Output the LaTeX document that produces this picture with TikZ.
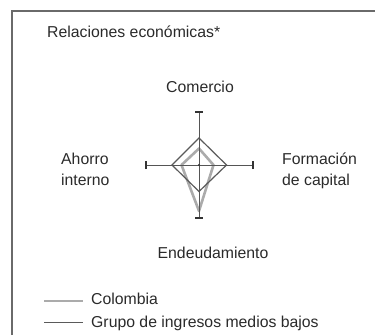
\documentclass[tikz,border=0pt]{standalone}
\usepackage{fontspec}
\setmainfont{Liberation Sans}
\definecolor{framegray}{HTML}{6A6A6A}
\definecolor{axisgray}{HTML}{555555}
\definecolor{lightser}{HTML}{ABABAB}
\definecolor{darkser}{HTML}{5A5A5A}
\definecolor{txt}{HTML}{2A2A2A}
\begin{document}
\begin{tikzpicture}[x=1pt,y=-1pt,
  lbl/.style={inner sep=0pt,text=txt,font=\fontsize{15.8}{21}\selectfont},
  frameline/.style={draw=framegray,line width=2pt},
  axisline/.style={draw=axisgray,line width=1pt},
  tickbar/.style={draw=black!80,line width=2pt},
  colser/.style={draw=lightser,line width=2.6pt,line join=round},
  grpser/.style={draw=darkser,line width=1.2pt,line join=miter},
  legcol/.style={draw=lightser,line width=2pt},
  leggrp/.style={draw=darkser,line width=1.2pt}]
\useasboundingbox (0,0) rectangle (375,335);
% frame
\draw[frameline] (12,335) -- (12,11) -- (375,11);
% title
\node[lbl,anchor=base west] (title) at (47,37) {Relaciones económicas*};
% chart
\coordinate (c) at (199,165);
\coordinate (at) at (199,112);
\coordinate (ab) at (199,218);
\coordinate (al) at (146,165);
\coordinate (ar) at (252.5,165);
% series Colombia
\draw[colser] (199,148.5) -- (213.5,165) -- (199,211) -- (181.5,165) -- cycle;
% series Grupo
\draw[grpser] (199,138) -- (226.5,165) -- (199,191.5) -- (172,165) -- cycle;
% axes
\draw[axisline] (at) -- (ab);
\draw[axisline] (al) -- (ar);
\fill[black!80] (c) circle (1.2pt);
% ticks
\draw[tickbar] ([xshift=-4pt]at) -- ([xshift=4pt]at);
\draw[tickbar] ([xshift=-4pt]ab) -- ([xshift=4pt]ab);
\draw[tickbar] ([yshift=-4pt]al) -- ([yshift=4pt]al);
\draw[tickbar] ([yshift=-4pt]ar) -- ([yshift=4pt]ar);
% axis labels
\node[lbl,anchor=base] (com) at (200,92) {Comercio};
\node[lbl,anchor=base west] (aho1) at (61,164) {Ahorro};
\node[lbl,anchor=base west] (aho2) at (61,185) {interno};
\node[lbl,anchor=base west] (for1) at (282,164) {Formación};
\node[lbl,anchor=base west] (for2) at (282,185) {de capital};
\node[lbl,anchor=base] (end) at (213,258) {Endeudamiento};
% legend
\coordinate (l1a) at (44,300.5);
\coordinate (l1b) at (83,300.5);
\coordinate (l2a) at (44,322.5);
\coordinate (l2b) at (83,322.5);
\draw[legcol] (l1a) -- (l1b);
\draw[leggrp] (l2a) -- (l2b);
\node[lbl,anchor=base west] (leg1) at (91,304.5) {Colombia};
\node[lbl,anchor=base west] (leg2) at (91,327) {Grupo de ingresos medios bajos};
\end{tikzpicture}
\end{document}
